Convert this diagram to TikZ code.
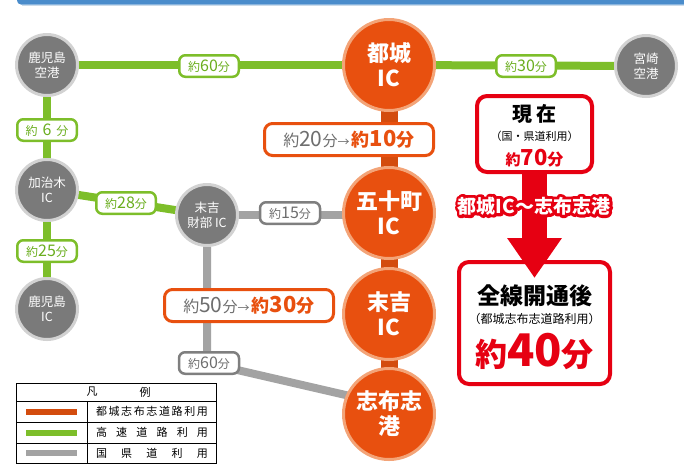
\documentclass[tikz,border=0pt]{standalone}
\usepackage{fontspec}
\setmainfont{Noto Sans CJK JP}
\newfontfamily\jp{Noto Sans CJK JP}
\usetikzlibrary{arrows.meta,backgrounds,calc}
\definecolor{grn}{HTML}{7DBE2A}
\definecolor{grntxt}{HTML}{6AAE1E}
\definecolor{gry}{HTML}{A3A3A3}
\definecolor{grybd}{HTML}{7F7F7F}
\definecolor{grytxt}{HTML}{6E6E6E}
\definecolor{nodegray}{HTML}{7A7A7A}
\definecolor{ringgray}{HTML}{D2D2D2}
\definecolor{org}{HTML}{E8500F}
\definecolor{orgring}{HTML}{F3A478}
\definecolor{orgline}{HTML}{D34C0E}
\definecolor{rd}{HTML}{E60012}
\definecolor{blu}{HTML}{4A8CCB}
\definecolor{blulight}{HTML}{CBDBEA}
\newcommand\fs[1]{\fontsize{#1}{#1}\selectfont}
\tikzset{
  gnode/.style={circle, fill=nodegray, draw=ringgray, line width=3pt, minimum size=61pt, inner sep=0pt, text=white, font=\jp\fontsize{12.5}{15}\selectfont, align=center},
  onode/.style={circle, fill=org, draw=orgring, line width=3pt, minimum size=91pt, inner sep=0pt, text=white, font=\jp\bfseries\fontsize{22}{25}\selectfont, align=center},
  glab/.style={draw=grn, line width=2.5pt, rounded corners=6pt, fill=white, text=grntxt, minimum width=59.5pt, minimum height=21.5pt, inner sep=0pt},
  ylab/.style={draw=grybd, line width=2.5pt, rounded corners=6pt, fill=white, text=grytxt, minimum width=60pt, minimum height=21.5pt, inner sep=0pt},
  obox/.style={draw=org, line width=3pt, rounded corners=8pt, fill=white, minimum width=169pt, minimum height=32pt, inner sep=0pt},
  rbox/.style={draw=rd, line width=4pt, rounded corners=10pt, fill=white, inner sep=0pt},
  gline/.style={grn, line width=8pt},
  yline/.style={gry, line width=8pt},
  oline/.style={orgline, line width=17pt},
  legtxt/.style={font=\fs{11}, text=black, inner sep=0pt},
}
\begin{document}
\begin{tikzpicture}[x=1pt,y=-1pt]
\useasboundingbox (0,0) rectangle (684,467);
\begin{scope}
\clip (0,0) rectangle (684,467);
\fill[blu, rounded corners=4pt] (17,-8) rectangle (700,4.5);
\draw[blulight, line width=1pt] (22,5.5) -- (684,5.5);
\end{scope}

% nodes
\node[gnode] (kap) at (47,65) {鹿児島\\空港};
\node[gnode] (kaj) at (47,190) {加治木\\IC};
\node[gnode] (kic) at (47,309) {鹿児島\\IC};
\node[gnode] (sue) at (207,215) {末吉\\財部 IC};
\node[gnode] (miy) at (646,66) {宮崎\\空港};
\node[onode] (miyako) at (389,65) {都城\\IC};
\node[onode] (goj) at (389,213) {五十町\\IC};
\node[onode] (sueic) at (389,314) {末吉\\IC};
\node[onode] (shi) at (389,414) {志布志\\港};
\coordinate (bend) at (207,363);
\coordinate (shiend) at (389,405);

\begin{pgfonlayer}{background}
\draw[gline] (kap.center) -- (miyako.center);
\draw[gline] (miyako.center) -- (miy.center);
\draw[gline] (kap.center) -- (kaj.center);
\draw[gline] (kaj.center) -- (kic.center);
\draw[gline] (kaj.center) -- (sue.center);
\draw[yline] (sue.center) -- ($(goj.center)+(0,2)$);
\draw[yline] (sue.center) -- (bend) -- (shiend);
\draw[oline] (miyako.center) -- (shi.center);
\end{pgfonlayer}

% time labels
\node[glab] (t60) at (209,66) {{\fs{12}約}{\fs{16}60}{\fs{12}分}};
\node[glab] (t30) at (526,66) {{\fs{12}約}{\fs{16}30}{\fs{12}分}};
\node[glab] (t6) at (47,130) {{\fs{12}約}\hspace{5pt}{\fs{16}6}\hspace{5pt}{\fs{12}分}};
\node[glab] (t28) at (126,203) {{\fs{12}約}{\fs{16}28}{\fs{12}分}};
\node[glab] (t25) at (47,251) {{\fs{12}約}{\fs{16}25}{\fs{12}分}};
\node[ylab] (t15) at (290,213) {{\fs{12}約}{\fs{16}15}{\fs{12}分}};
\node[ylab] (t60b) at (209,363) {{\fs{12}約}{\fs{16}60}{\fs{12}分}};

\node[obox] (ob1) at (349,139.5) {{\color{grytxt}{\fs{16}約}{\fs{21}20}{\fs{15}分}{\fs{12}→}}\ {\color{org}\bfseries{\fs{18}約}{\fs{22}10}{\fs{18}分}}};
\node[obox] (ob2) at (249,305.5) {{\color{grytxt}{\fs{16}約}{\fs{21}50}{\fs{15}分}{\fs{12}→}}\ {\color{org}\bfseries{\fs{18}約}{\fs{22}30}{\fs{18}分}}};

% red boxes
\node[rbox, minimum width=115pt, minimum height=76pt] (now) at (534.5,134) {};
\node[inner sep=0pt, font=\bfseries\fs{20}] (nowt) at (534.5,114) {現\hspace{4pt}在};
\node[inner sep=0pt, font=\fs{11}] (nows) at (534.5,136) {（国・県道利用）};
\node[inner sep=0pt, text=rd, font=\bfseries] (nowv) at (534.5,158) {{\fs{15}約}{\fs{22}70}{\fs{16}分}};

\node[rbox, minimum width=151pt, minimum height=122pt] (aft) at (534.5,323) {};
\coordinate (tip) at ($(aft.north)+(0,18)$);
\draw[rd, line width=25pt, -{Triangle[width=52pt,length=40pt]}] (now.south) -- (tip);
\node[inner sep=0pt, font=\bfseries\fs{23}] (aftt) at (534.5,296) {全線開通後};
\node[inner sep=0pt, font=\fs{12}] (afts) at (534.5,319) {（都城志布志道路利用）};
\node[inner sep=0pt, text=rd, font=\bfseries] (aftv) at (534.5,351) {{\fs{32}約}{\fs{45}40}{\fs{32}分}};

% outlined route label: red stroked text under white filled text
\coordinate (rl) at (534,206);
\node[inner sep=0pt, text=rd, font=\bfseries\fs{19}] (rlo) at (rl) {\special{pdf:literal direct 2 Tr 6 w 1 J 1 j}都城IC～志布志港\special{pdf:literal direct 0 Tr 1 w}};
\node[inner sep=0pt, text=white, font=\bfseries\fs{19}] (rlt) at (rl) {都城IC～志布志港};

% legend
\draw[line width=0.9pt] (16,383) rectangle (216,463);
\draw[line width=0.9pt] (16,401) -- (216,401);
\draw[line width=0.9pt] (16,422) -- (216,422);
\draw[line width=0.9pt] (16,443) -- (216,443);
\draw[line width=0.9pt] (87,401) -- (87,463);
\node[legtxt] (lh1) at (92,392) {凡};
\node[legtxt] (lh2) at (145,392) {例};
\draw[orgline, line width=6pt] (26,411.5) -- (77,411.5);
\draw[grn, line width=6pt] (26,432.5) -- (77,432.5);
\draw[gry, line width=6pt] (26,453) -- (77,453);
\node[legtxt] (lr1) at (152,411.5) {\hbox to 112pt{都\hfill 城\hfill 志\hfill 布\hfill 志\hfill 道\hfill 路\hfill 利\hfill 用}};
\node[legtxt] (lr2) at (152,432.5) {\hbox to 112pt{高\hfill 速\hfill 道\hfill 路\hfill 利\hfill 用}};
\node[legtxt] (lr3) at (152,453) {\hbox to 112pt{国\hfill 県\hfill 道\hfill 利\hfill 用}};
\end{tikzpicture}
\end{document}
